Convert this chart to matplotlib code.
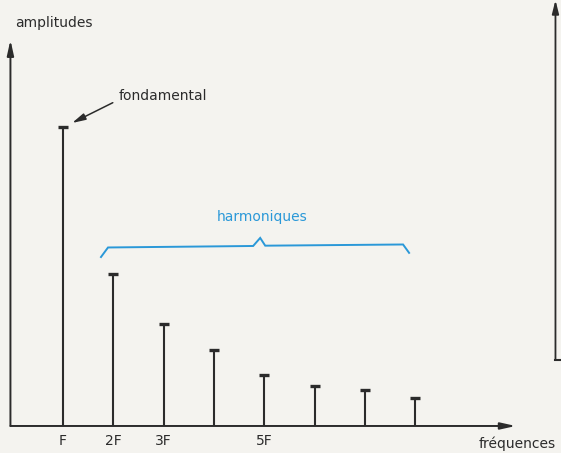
import matplotlib.pyplot as plt
import numpy as np

## Harmonic spectrum: fundamental F and its harmonics 2F..8F
harmonics = [1, 2, 3, 4, 5, 6, 7, 8]
amplitudes = [100, 51, 34, 25.5, 17, 13.5, 12, 9.5]
tick_pos = [1, 2, 3, 5]
tick_labels = ['F', '2F', '3F', '5F']

ink = '#2b2b2b'
blue = '#2a98d8'
paper = '#f4f3ef'

fig = plt.figure(figsize=(5.61, 4.53), dpi=100, facecolor=paper)
ax = fig.add_axes([0, 0, 1, 1])
ax.set_facecolor(paper)
ax.set_xlim(-0.2525, 10.90)
ax.set_ylim(-9.05, 142.7)
ax.axis('off')

## axes drawn by hand as arrows
x0 = -0.045
ax.annotate('', xy=(x0, 129.3), xytext=(x0, 0),
            arrowprops=dict(arrowstyle='-|>,head_length=0.9,head_width=0.2',
                            color=ink, lw=1.4, shrinkA=0, shrinkB=0))
ax.annotate('', xy=(10.0, 0), xytext=(x0, 0),
            arrowprops=dict(arrowstyle='-|>,head_length=0.9,head_width=0.2',
                            color=ink, lw=1.4, shrinkA=0, shrinkB=0))

## spectral lines with small caps on top
ax.vlines(harmonics, 0, amplitudes, color=ink, lw=1.5)
ax.scatter(harmonics, amplitudes, marker='_', s=45, linewidths=2.4, color=ink, zorder=3)

## labels
ax.text(0.82, 135, 'amplitudes', fontsize=10, color=ink, ha='center', va='center')
ax.text(10.02, -5.8, 'fréquences', fontsize=10, color=ink, ha='center', va='center')
for p, lab in zip(tick_pos, tick_labels):
    ax.text(p, -5.0, lab, fontsize=10, color=ink, ha='center', va='center')

ax.text(2.1, 110.5, 'fondamental', fontsize=10, color=ink, ha='left', va='center')
ax.annotate('', xy=(1.18, 101.5), xytext=(1.99, 108.3),
            arrowprops=dict(arrowstyle='-|>,head_length=0.8,head_width=0.2',
                            color=ink, lw=1.1, shrinkA=0, shrinkB=0))

## brace over the harmonics
bx = [1.755, 1.895, 4.78, 4.92, 5.02, 7.76, 7.88]
by = [56.6, 59.8, 60.3, 63.0, 60.4, 60.8, 58.0]
ax.plot(bx, by, color=blue, lw=1.4, solid_joinstyle='miter')
ax.text(4.95, 70.0, 'harmoniques', fontsize=10, color=blue, ha='center', va='center')

## edge of the neighbouring figure on the right
ax.annotate('', xy=(10.79, 142.7), xytext=(10.79, 22.1),
            arrowprops=dict(arrowstyle='-|>,head_length=0.8,head_width=0.2',
                            color=ink, lw=1.3, shrinkA=0, shrinkB=0))
ax.plot([10.79, 10.92], [22.1, 22.1], color=ink, lw=1.5)

plt.savefig('out.png', dpi=100, facecolor=paper)
